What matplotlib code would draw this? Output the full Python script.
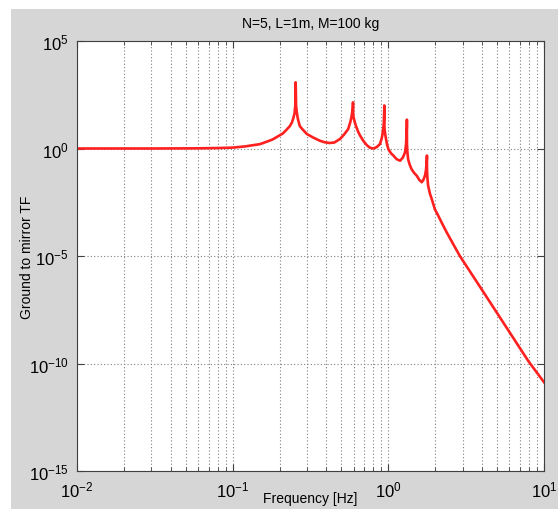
import matplotlib
matplotlib.use("Agg")
import matplotlib.pyplot as plt
from matplotlib.patches import Rectangle
from matplotlib.ticker import FixedLocator, NullLocator, LogFormatterSciNotation, LogLocator

plt.rcParams['font.family'] = ['Liberation Sans', 'DejaVu Sans']

# valeurs (fréquence en Hz, module de la FT)
freq = [0.01, 0.03, 0.06, 0.08, 0.1, 0.12, 0.15, 0.18, 0.21, 0.22, 0.233, 0.24, 0.245, 0.25, 0.2525,
        0.254, 0.2555, 0.258, 0.262, 0.265, 0.27, 0.28, 0.30, 0.33, 0.363, 0.39, 0.42, 0.45,
        0.49, 0.52, 0.552, 0.57, 0.58, 0.585, 0.5915,
        0.593, 0.5945, 0.597, 0.605, 0.61, 0.62, 0.64, 0.658, 0.69, 0.726, 0.76, 0.80, 0.84,
        0.883, 0.905, 0.918, 0.93, 0.935, 0.938, 0.941,
        0.942, 0.9435, 0.946, 0.955, 0.966, 0.98, 1.0, 1.04, 1.077, 1.13, 1.19, 1.24, 1.28,
        1.30, 1.305, 1.31, 1.3145,
        1.316, 1.3175, 1.3185, 1.325, 1.34, 1.37, 1.41, 1.46, 1.52, 1.58, 1.64, 1.68, 1.72,
        1.745, 1.76, 1.769,
        1.77, 1.771, 1.773, 1.78, 1.80, 1.85, 1.90, 1.99, 2.09, 2.2, 2.37, 2.88, 3.87, 5.0,
        7.93, 10.0]
tf = [1.0, 1.0, 1.02, 1.05, 1.1, 1.25, 1.6, 2.6, 5.0, 7.0, 11.0, 16.0, 25.0, 45.0, 100.0,
      1200.0, 100.0, 50.0, 25.0, 18.0, 11.0, 8.0, 4.7, 3.2, 2.3, 1.95, 1.8, 1.9,
      2.8, 4.5, 8.0, 17.0, 30.0, 45.0, 80.0,
      140.0, 40.0, 30.0, 20.0, 16.0, 11.0, 6.0, 4.0, 2.3, 1.45, 1.1, 1.0, 1.15,
      1.6, 2.8, 4.7, 10.0, 15.0, 30.0, 50.0,
      100.0, 12.0, 8.0, 4.5, 2.8, 1.6, 0.95, 0.6, 0.47, 0.32, 0.27, 0.38, 0.66,
      1.6, 3.0, 5.0, 10.0,
      22.0, 2.0, 1.5, 0.7, 0.32, 0.18, 0.11, 0.075, 0.055, 0.035, 0.027, 0.035, 0.055,
      0.1, 0.2, 0.35,
      0.47, 0.15, 0.1, 0.05, 0.019, 0.008, 0.0045, 1.5e-3, 7.6e-4, 3.6e-4, 1.26e-4, 1.0e-5,
      3.8e-7, 2.2e-8, 1.3e-10, 1.35e-11]

fig = plt.figure(figsize=(5.58, 5.10), dpi=100, facecolor='white')
fig.patches.append(Rectangle((11 / 558, 0), 1, 1 - 10 / 510, transform=fig.transFigure,
                             facecolor='#d6d6d6', edgecolor='none', zorder=-10))
ax = fig.add_axes([77 / 558, 38 / 510, 467 / 558, 430 / 510])

ax.loglog(freq, tf, color='#ff2020', linewidth=1.9)

ax.set_xlim(1e-2, 1e1)
ax.set_ylim(1e-15, 1e5)

ax.yaxis.set_major_locator(FixedLocator([1e-15, 1e-10, 1e-5, 1e0, 1e5]))
ax.yaxis.set_major_formatter(LogFormatterSciNotation())
ax.yaxis.set_minor_locator(NullLocator())
ax.xaxis.set_major_locator(FixedLocator([1e-2, 1e-1, 1e0, 1e1]))
ax.xaxis.set_minor_locator(LogLocator(base=10, subs=range(2, 10)))

ax.grid(True, which='major', axis='both', linestyle=(0, (1, 2)), color='#808080', linewidth=0.8)
ax.grid(True, which='minor', axis='x', linestyle=(0, (1, 2)), color='#808080', linewidth=0.8)

ax.tick_params(which='both', direction='in', top=True, right=True, color='#404040')
ax.tick_params(which='major', length=5, labelsize=12, pad=6)
ax.tick_params(which='minor', length=3)
for s in ax.spines.values():
    s.set_color('#404040')

ax.set_title("N=5, L=1m, M=100 kg", fontsize=10, pad=10)
ax.set_xlabel("Frequency [Hz]", fontsize=10, labelpad=-6)
ax.set_ylabel("Ground to mirror TF", fontsize=10, labelpad=-4)

plt.savefig("out.png", dpi=100, facecolor=fig.get_facecolor())
